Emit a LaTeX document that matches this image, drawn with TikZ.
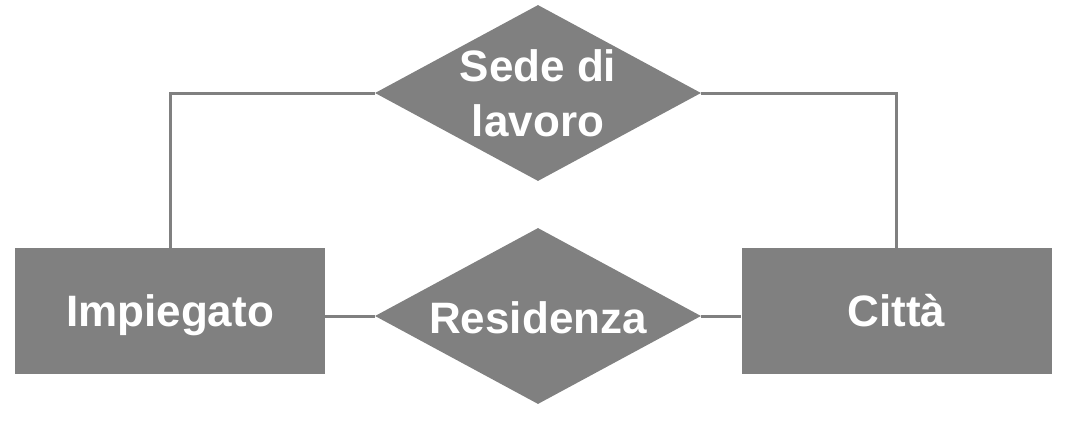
\documentclass[tikz,border=0pt]{standalone}
\usepackage{fontspec}
\setmainfont{Liberation Sans}
\usetikzlibrary{shapes.geometric}
\definecolor{ergray}{HTML}{808080}
\begin{document}
\begin{tikzpicture}[x=1pt,y=-1pt,
  entity/.style={rectangle,fill=ergray,inner sep=0pt,minimum width=310pt,minimum height=126pt,
    text=white,text height=31.5pt,text depth=0pt,font=\fontsize{44}{55}\selectfont\bfseries},
  relation/.style={diamond,aspect=1.852,fill=ergray,inner sep=0pt,minimum width=326pt,minimum height=176pt,
    text=white,align=center,font=\fontsize{44}{55}\selectfont\bfseries},
  link/.style={draw=ergray,line width=3pt}]
\useasboundingbox (0,0) rectangle (1091,436);
\node[entity] (imp) at (170,311) {Impiegato};
\node[entity] (cit) at (896.5,311) {Città};
\node[relation] (sede) at (538,93) {Sede di\\lavoro};
\node[relation,text height=35.5pt,text depth=0pt] (res) at (538,316) {Residenza};
\draw[link] (imp.north) |- (sede.west);
\draw[link] (cit.north) |- (sede.east);
\draw[link] (res.west) -- (res.west -| imp.east);
\draw[link] (res.east) -- (res.east -| cit.west);
\end{tikzpicture}
\end{document}
